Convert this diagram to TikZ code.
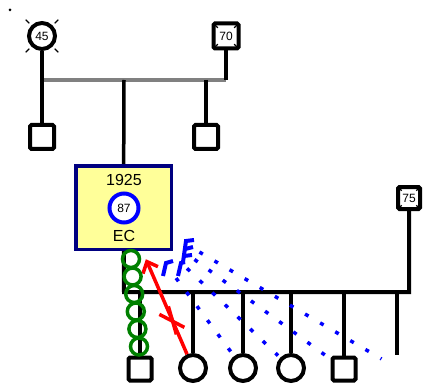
\documentclass[tikz,border=0pt]{standalone}
\usepackage{fontspec}
\setmainfont{Liberation Sans}
\usetikzlibrary{calc}
\definecolor{boxyellow}{RGB}{255,255,153}
\definecolor{boxnavy}{RGB}{0,0,128}
\definecolor{twingreen}{RGB}{0,128,0}
\definecolor{pairgray}{RGB}{128,128,128}

\begin{document}
\begin{tikzpicture}[x=1pt, y=-1pt,
    male/.style={rectangle, draw, line width=4pt, rounded corners=1.5pt, fill=white, minimum size=23pt, inner sep=0pt},
    female/.style={circle, draw, line width=4pt, fill=white, minimum size=26pt, inner sep=0pt},
    num/.style={font=\fontsize{12}{12}\selectfont},
    big/.style={font=\fontsize{16}{16}\selectfont, inner sep=0pt},
    ecbox/.style={rectangle, draw=boxnavy, fill=boxyellow, line width=3.5pt, minimum width=95.5pt, minimum height=83.5pt},
    link/.style={line width=3.5pt},
    tick/.style={line width=1.3pt},
    dots/.style={blue, line width=3.5pt, dash pattern=on 4pt off 13.5pt},
    hostile/.style={blue, line width=4pt},
    cutoff/.style={red, line width=3.5pt},
    twin/.style={twingreen, line width=3.5pt}
]
\useasboundingbox (0,0) rectangle (423,385);
\fill (10,10) circle (1.5);

% parents
\coordinate (pl) at (42,80);
\coordinate (pm) at (124,80);
\coordinate (pr) at (226,80);
\draw[link, pairgray] (pl) -- (pr);
\node[female, minimum size=26pt, num] (m45) at (42,36) {45};
\node[male, minimum size=25pt, num] (f70) at (226,36) {70};
\foreach \a in {45,135,225,315}
  \draw[tick] ($(m45.\a)!-3pt!(m45.center)$) -- ($(m45.\a)!-8pt!(m45.center)$);
\foreach \a in {north west,north east,south west,south east}
  \draw[tick] ($(f70.\a)!3pt!(f70.center)$) -- ($(f70.\a)!9pt!(f70.center)$);

% siblings
\node[male, minimum size=24pt] (s1) at (42,137) {};
\node[male, minimum size=24pt] (s3) at (206,137) {};
\node[ecbox] (ec) at (123.5,207.5) {};
\node[big] (yr) at (124,180) {1925};
\node[female, draw=blue, minimum size=29pt, num] (age) at (124,208) {87};
\node[big] (ini) at (124,236) {EC};
\draw[link] (m45) -- (s1);
\draw[link] (f70) -- (pr);
\draw[link] (pm) -- (ec);
\draw[link] (s3 |- pl) -- (s3);

% partner
\node[male, minimum size=22pt, num] (p75) at (409,198) {75};
\foreach \a in {north west,north east,south west,south east}
  \draw[tick] ($(p75.\a)!3pt!(p75.center)$) -- ($(p75.\a)!8pt!(p75.center)$);

% children
\coordinate (ml) at (124,292);
\coordinate (mr) at (409,292);
\node[male] (c1) at (140,369) {};
\node[female] (c2) at (193,368) {};
\node[female] (c3) at (243,368) {};
\node[female] (c4) at (291,368) {};
\node[male] (c5) at (344,369) {};
\coordinate (k6) at (397,355);
\coordinate (k6t) at (397,368);
\foreach \c in {c1,c2,c3,c4,c5}
  \draw[link] (\c |- ml) -- (\c);
\draw[link] (k6 |- ml) -- (k6);
\draw[link, line width=4pt] (ec) -- (ml) -- (mr) -- (p75);

% relationships
\foreach \t in {c3,c4,c5,k6t}
  \draw[dots, shorten <=88pt, shorten >=18pt] (ec.center) -- (\t.center);
\coordinate (h) at ($(ec.center)!59pt!(c2.center)$);
\coordinate (cx) at ($(ec.center)!123pt!(c2.center)$);
\draw[cutoff, shorten <=59pt] (ec.center) -- (c2);
\draw[cutoff] ($(h)+(-4,12)$) -- (h) -- ($(h)+(11,5)$);
\draw[cutoff] ($(cx)+(-13,-6)$) -- ($(cx)+(12,7)$);
\draw[cutoff] ($(cx)+(-4,-14)$) -- ($(cx)+(4,14)$);
\draw[hostile] (163,276) -- (166,263) -- (173,261);
\draw[hostile] (178,276) -- (181,263) -- (185,262);
\draw[hostile] (183,262) -- (186,241) -- (194,240);
\draw[hostile] (185,249) -- (193,247);
\draw[hostile] (184,256) -- (192,255);
\coordinate (ta) at ($(ec.south)+(7.5,8)$);
\coordinate (tb) at ($(c1.north)+(-1,-9)$);
\foreach \i in {0,...,5}
  \draw[twin] ($(ta)!\i/5!(tb)$) circle (8.5);
\end{tikzpicture}
\end{document}
